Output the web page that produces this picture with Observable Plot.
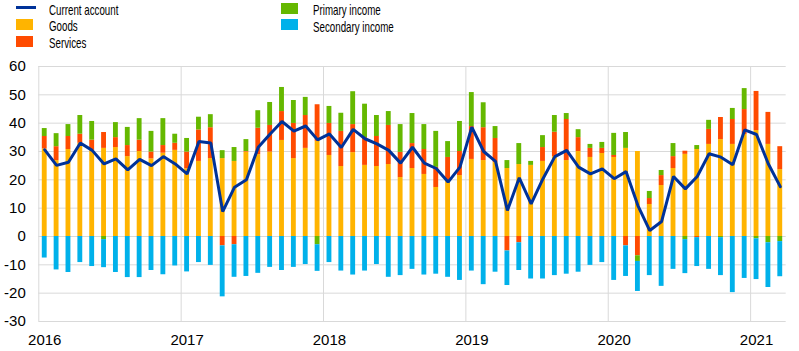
<!DOCTYPE html>
<html><head><meta charset="utf-8">
<script src="https://cdn.jsdelivr.net/npm/d3@7"></script>
<script src="https://cdn.jsdelivr.net/npm/@observablehq/plot@0.6"></script>
<style>
body{margin:0;background:#fff;font-family:"Liberation Sans",Arial,sans-serif;}
#wrap{position:relative;width:799px;height:351px;overflow:hidden;}
#legend{position:relative;width:799px;height:52px;}
.sw{position:absolute;}
.lt{position:absolute;font-size:15px;color:#000;transform-origin:0 0;transform:scaleX(0.65);white-space:nowrap;line-height:1;}
#chart svg{display:block;}
</style></head><body>
<div id="wrap"><div id="legend"></div><div id="chart"></div></div>
<script>
// Categories
const years = ["2016","2017","2018","2019","2020","2021"];
const nMonths = 63; // Jan 2016 .. Mar 2021
const seriesNames = ["Goods","Services","Primary income","Secondary income"];
const seriesColors = ["#FFB400","#FF4B00","#65B800","#00B1EA"];
const lineName = "Current account";
const lineColor = "#003299";
const yTicks = [-30,-20,-10,0,10,20,30,40,50,60];

// Series values (EUR bn), monthly
const goods = [30.9,26.8,30.7,32.9,30.4,31.1,31.4,28.2,30.0,27.4,29.4,30.4,
  23.9,26.5,27.5,27.5,26.5,29.8,28.9,29.8,33.9,27.5,31.1,33.6,
  28.6,24.7,29.6,25.1,24.7,25.4,20.8,24.0,21.9,17.3,19.4,21.5,
  27.2,26.8,26.1,24.0,25.4,25.1,26.5,28.2,26.8,30.0,27.9,29.3,
  27.9,31.1,30.0,11.3,18.0,24.0,29.0,30.7,32.5,34.2,32.5,36.0,
  37.4,32.5,23.6];
const services = [4.4,4.9,4.6,3.2,3.6,5.6,3.5,3.9,4.0,2.4,2.7,2.5,
  5.9,11.1,10.9,-3.3,-2.9,0.2,9.3,9.4,10.2,12.4,11.6,12.9,
  11.3,12.4,9.9,9.8,10.6,13.8,8.9,8.8,8.8,7.1,8.5,8.5,
  11.6,11.6,8.5,-5.1,-2.2,0.0,4.9,8.6,14.5,4.9,3.2,1.8,
  0.7,-3.3,-6.8,2.1,3.5,4.2,1.1,-0.4,5.3,7.8,8.8,8.8,
  13.8,11.3,8.1];
const primaryIncome = [2.8,4.6,4.2,6.6,6.6,-1.1,5.3,6.4,7.6,7.3,9.5,3.2,
  4.8,4.5,4.6,2.8,4.9,4.2,6.2,8.1,8.5,8.1,6.4,-2.9,
  6.0,6.4,11.6,11.8,7.4,4.9,9.8,10.6,8.8,12.7,5.6,10.6,
  12.0,8.8,4.2,2.8,7.4,1.4,4.2,5.9,2.1,2.8,1.4,2.1,
  7.8,5.6,-2.0,2.5,1.8,4.6,-1.1,1.4,3.2,-0.4,3.9,7.4,
  -0.8,-2.2,-1.8];
const secondaryIncome = [-7.6,-11.8,-12.7,-9.2,-10.6,-9.9,-12.7,-14.5,-14.5,-12.0,-13.5,-10.4,
  -12.5,-9.2,-10.2,-18.0,-11.5,-14.1,-13.0,-10.9,-12.0,-10.9,-9.9,-9.4,
  -9.2,-12.2,-13.6,-12.2,-9.9,-14.4,-13.8,-11.6,-13.6,-13.3,-14.4,-15.5,
  -12.2,-17.0,-12.6,-12.2,-9.8,-15.0,-15.0,-13.8,-13.3,-12.6,-10.2,-9.2,
  -15.5,-10.8,-10.6,-13.8,-17.6,-11.6,-12.0,-10.2,-11.6,-13.4,-19.8,-14.8,
  -14.4,-15.8,-12.4];
const currentAccount = [30.6,25.1,26.2,33.0,30.4,25.6,27.4,23.5,27.2,25.0,28.2,25.6,
  22.1,33.5,33.0,8.8,17.4,20.0,31.5,36.2,40.6,37.2,39.0,34.1,
  36.2,31.4,37.8,34.5,32.7,30.4,25.9,31.5,25.9,24.0,19.2,24.5,
  38.6,30.0,26.5,9.2,20.7,11.5,20.4,28.2,30.4,24.5,22.1,23.9,
  20.4,22.9,10.9,2.1,5.3,21.2,16.8,21.2,29.2,28.0,25.3,37.6,
  36.0,25.6,17.6];

const seriesValues = [goods, services, primaryIncome, secondaryIncome];
const long = [];
seriesNames.forEach((s, k) => seriesValues[k].forEach((v, i) => long.push({i, series: s, value: v})));

const W = 799, H = 299;
const mL = 38.3, mR = 13.3, mT = 14, mB = 30;
const yearStarts = years.map((y, k) => k * 12);
const yearLabelPos = years.map((y, k) => k * 12 + 0.5);

const chart = Plot.plot({
  width: W, height: H,
  marginLeft: mL, marginRight: mR, marginTop: mT, marginBottom: mB,
  style: {fontFamily: '"Liberation Sans", Arial, sans-serif', fontSize: "15px", color: "#000", background: "#fff", overflow: "visible"},
  x: {type: "linear", domain: [0, nMonths], ticks: yearLabelPos, tickFormat: (d) => years[Math.round(d - 0.5) / 12], tickSize: 0, tickPadding: 13, label: null},
  y: {domain: [-30, 60], ticks: yTicks, tickFormat: (d) => String(d), tickSize: 0, tickPadding: 13, label: null},
  color: {domain: seriesNames, range: seriesColors},
  marks: [
    Plot.ruleY(yTicks, {stroke: "#d9d9d9", strokeWidth: 1}),
    Plot.ruleX(yearStarts, {y1: -30, y2: 60, stroke: "#d9d9d9", strokeWidth: 1}),
    Plot.rectY(long, Plot.stackY({x: "i", x1: "i", x2: (d) => d.i + 1, y: "value", fill: "series", insetLeft: 3.5, insetRight: 3.5})),
    Plot.line(currentAccount, {x: (d, i) => i + 0.5, y: (d) => d, stroke: lineColor, strokeWidth: 3, strokeLinejoin: "miter"})
  ]
});
document.getElementById("chart").appendChild(chart);

// Legend
const legend = document.getElementById("legend");
function add(html){ legend.insertAdjacentHTML("beforeend", html); }
add(`<div class="sw" style="left:16px;top:6px;width:20px;height:3px;background:${lineColor}"></div>`);
add(`<div class="lt" style="left:49px;top:2.3px">${lineName}</div>`);
const legendPos = [
  {x: 16, y: 19, tx: 49, ty: 18.3},
  {x: 16, y: 36, tx: 49, ty: 35.3},
  {x: 281, y: 3, tx: 313, ty: 2.3},
  {x: 281, y: 19, tx: 313, ty: 18.5}
];
seriesNames.forEach((s, k) => {
  const p = legendPos[k];
  add(`<div class="sw" style="left:${p.x}px;top:${p.y}px;width:16.5px;height:10.5px;background:${seriesColors[k]}"></div>`);
  add(`<div class="lt" style="left:${p.tx}px;top:${p.ty}px">${s}</div>`);
});
</script>
</body></html>
